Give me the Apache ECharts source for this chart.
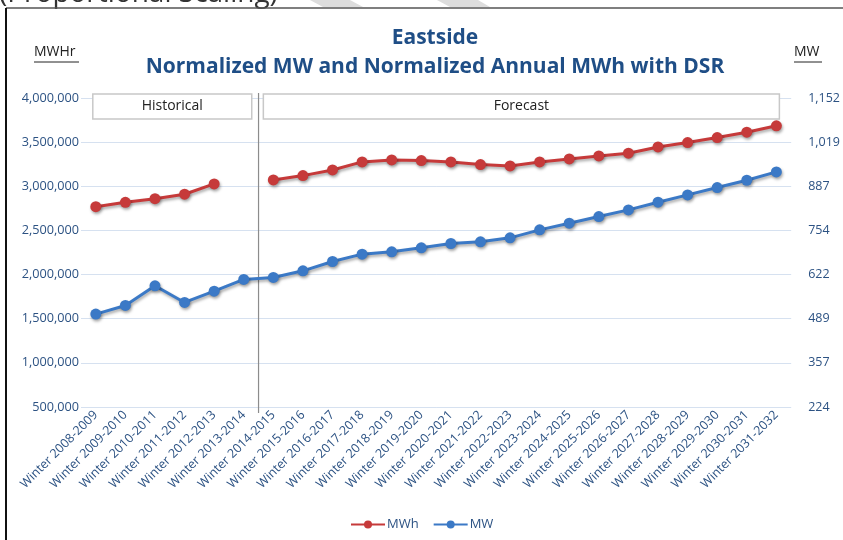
<!DOCTYPE html>
<html><head><meta charset="utf-8">
<script src="https://cdn.jsdelivr.net/npm/echarts@6/dist/echarts.min.js"></script>
<style>html,body{margin:0;padding:0;background:#fff}#c{width:843px;height:540px}</style>
</head><body><div id="c"></div>
<script>
const categories = ['Winter 2008-2009','Winter 2009-2010','Winter 2010-2011','Winter 2011-2012','Winter 2012-2013','Winter 2013-2014','Winter 2014-2015','Winter 2015-2016','Winter 2016-2017','Winter 2017-2018','Winter 2018-2019','Winter 2019-2020','Winter 2020-2021','Winter 2021-2022','Winter 2022-2023','Winter 2023-2024','Winter 2024-2025','Winter 2025-2026','Winter 2026-2027','Winter 2027-2028','Winter 2028-2029','Winter 2029-2030','Winter 2030-2031','Winter 2031-2032'];
const mwhValues = [2769000,2819000,2860000,2910000,3027000,null,3072000,3121000,3185000,3276000,3299000,3291000,3276000,3246000,3231000,3276000,3310000,3344000,3375000,3446000,3495000,3552000,3613000,3685000];
const mwValues = [503,529,588,538,572,607,613,633,661,683,690,702,715,720,732,756,776,796,816,839,861,883,905,930];
const leftAxisMin = 500000, leftAxisMax = 4000000, leftAxisStep = 500000;
const rightAxisMin = 224, rightAxisMax = 1152, rightAxisSplits = 7;
const periodLabels = ['Historical','Forecast'];
const titleLines = ['Eastside','Normalized MW and Normalized Annual MWh with DSR'];

const RED = '#C63A3A', BLUE = '#3B79C6', TXT = '#2C5283', TITLE = '#1F4E86';
const FONT = '"Open Sans", sans-serif';
const fmt = v => Math.round(v).toLocaleString('en-US');

const chart = echarts.init(document.getElementById('c'), null, {renderer:'canvas'});
const shadow = {shadowBlur:3, shadowColor:'rgba(0,0,0,0.35)', shadowOffsetX:1, shadowOffsetY:2};
chart.setOption({
  animation:false,
  backgroundColor:'#fff',
  textStyle:{fontFamily:FONT},
  title:{text:titleLines.join('\n'), left:430, top:19, textAlign:'center',
    textStyle:{fontFamily:FONT, fontSize:21, fontWeight:'bold', color:TITLE, lineHeight:29}},
  grid:{left:81, right:50, top:98, bottom:133, containLabel:false},
  legend:{data:['MWh','MW'], left:345, top:513, itemWidth:34, itemHeight:10, itemGap:14,
    textStyle:{color:TXT, fontSize:13, fontFamily:FONT, padding:[0,0,0,-3]}},
  xAxis:{type:'category', data:categories, boundaryGap:true,
    axisLine:{show:false}, axisTick:{show:false},
    axisLabel:{rotate:45, interval:0, color:TXT, fontSize:12.5, fontFamily:FONT, margin:6}},
  yAxis:[
    {type:'value', min:leftAxisMin, max:leftAxisMax, interval:leftAxisStep,
      axisLine:{show:false}, axisTick:{show:false},
      axisLabel:{color:TXT, fontSize:12.7, fontFamily:FONT, margin:2, formatter:fmt},
      splitLine:{lineStyle:{color:'#D6E1F0', width:1}}},
    {type:'value', min:rightAxisMin, max:rightAxisMax, interval:(rightAxisMax-rightAxisMin)/rightAxisSplits,
      axisLine:{show:false}, axisTick:{show:false}, splitLine:{show:false},
      axisLabel:{color:TXT, fontSize:12.5, fontFamily:FONT, margin:17, formatter:fmt}}
  ],
  series:[
    {name:'MWh', type:'line', yAxisIndex:0, data:mwhValues, connectNulls:false,
      symbol:'circle', symbolSize:11,
      lineStyle:Object.assign({color:RED, width:3}, shadow),
      itemStyle:Object.assign({color:RED}, shadow)},
    {name:'MW', type:'line', yAxisIndex:1, data:mwValues,
      symbol:'circle', symbolSize:11,
      lineStyle:Object.assign({color:BLUE, width:3}, shadow),
      itemStyle:Object.assign({color:BLUE}, shadow)}
  ]
});

// annotations positioned via the chart's own scales
const px = i => chart.convertToPixel({xAxisIndex:0}, i);
const py = v => chart.convertToPixel({yAxisIndex:0}, v);
const xDiv = (px(5) + px(6)) / 2;
const yTop = py(leftAxisMax) - 4, yBot = py(leftAxisMin);
const boxH = 25;
const h0 = px(0) - 3, h1 = px(5) + 8, f0 = px(6) - 10, f1 = px(23) + 3;
chart.setOption({graphic:[
  {type:'polygon', shape:{points:[[310,0],[350,0],[363,7],[323,7]]}, style:{fill:'#DDDDDD'}, silent:true},
  {type:'polygon', shape:{points:[[437,0],[478,0],[490,7],[450,7]]}, style:{fill:'#DDDDDD'}, silent:true},
  {type:'text', left:-1, top:-20, style:{text:'(Proportional Scaling)', font:'28px "Open Sans", sans-serif', fill:'#333'}, silent:true},
  {type:'line', shape:{x1:6, y1:8, x2:843, y2:8}, style:{stroke:'#555', lineWidth:1.5}, silent:true},
  {type:'line', shape:{x1:6, y1:8, x2:6, y2:540}, style:{stroke:'#111', lineWidth:2}, silent:true},
  {type:'text', x:34, y:45, style:{text:'MWHr', font:'14px "Open Sans", sans-serif', fill:'#222'}, silent:true},
  {type:'line', shape:{x1:34, y1:62, x2:79, y2:62}, style:{stroke:'#222', lineWidth:1}, silent:true},
  {type:'text', x:794, y:45, style:{text:'MW', font:'14px "Open Sans", sans-serif', fill:'#222'}, silent:true},
  {type:'line', shape:{x1:794, y1:62, x2:822, y2:62}, style:{stroke:'#222', lineWidth:1}, silent:true},
  {type:'line', shape:{x1:xDiv, y1:yTop-1, x2:xDiv, y2:yBot+6}, style:{stroke:'#8C8C8C', lineWidth:1.2}, silent:true},
  {type:'rect', shape:{x:h0, y:yTop, width:h1-h0, height:boxH}, style:{fill:'#fff', stroke:'#C8C8C8', lineWidth:1.5}, silent:true},
  {type:'text', x:(h0+h1)/2, y:yTop+boxH/2, style:{text:periodLabels[0], font:'14px "Open Sans", sans-serif', fill:'#222', align:'center', verticalAlign:'middle'}, silent:true},
  {type:'rect', shape:{x:f0, y:yTop, width:f1-f0, height:boxH}, style:{fill:'#fff', stroke:'#C8C8C8', lineWidth:1.5}, silent:true},
  {type:'text', x:(f0+f1)/2, y:yTop+boxH/2, style:{text:periodLabels[1], font:'14px "Open Sans", sans-serif', fill:'#222', align:'center', verticalAlign:'middle'}, silent:true}
]});
</script></body></html>
